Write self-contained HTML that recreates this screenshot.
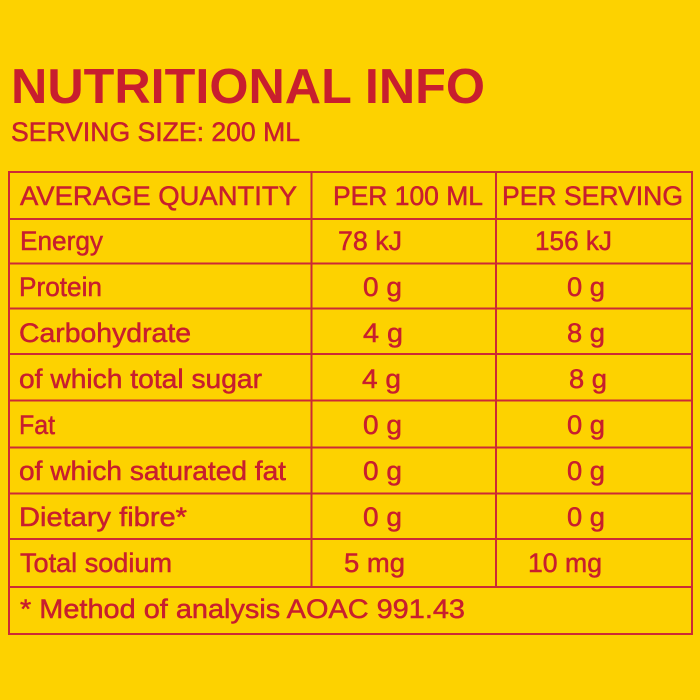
<!DOCTYPE html>
<html>
<head>
<meta charset="utf-8">
<style>
html,body{margin:0;padding:0;background:#fdd200;}
svg{display:block;}
text{font-family:"Liberation Sans",sans-serif;fill:#c81e2e;}
</style>
</head>
<body>
<svg width="700" height="700" viewBox="0 0 700 700" xmlns="http://www.w3.org/2000/svg">
<rect x="0" y="0" width="700" height="700" fill="#fdd200"/>
<text x="11" y="103" font-size="49" font-weight="bold" textLength="474" lengthAdjust="spacingAndGlyphs">NUTRITIONAL INFO</text>
<text x="11" y="141" font-size="27" stroke="#c81e2e" stroke-width="0.5" textLength="289" lengthAdjust="spacingAndGlyphs">SERVING SIZE: 200 ML</text>

<g stroke="#cc2a35" stroke-width="2" fill="none">
<rect x="9" y="172" width="683" height="462"/>
<line x1="311.5" y1="172" x2="311.5" y2="587"/>
<line x1="496" y1="172" x2="496" y2="587"/>
<line x1="9" y1="219" x2="692" y2="219"/>
<line x1="9" y1="263.5" x2="692" y2="263.5"/>
<line x1="9" y1="308.5" x2="692" y2="308.5"/>
<line x1="9" y1="354" x2="692" y2="354"/>
<line x1="9" y1="400.5" x2="692" y2="400.5"/>
<line x1="9" y1="447.5" x2="692" y2="447.5"/>
<line x1="9" y1="493.5" x2="692" y2="493.5"/>
<line x1="9" y1="539" x2="692" y2="539"/>
<line x1="9" y1="587" x2="692" y2="587"/>
</g>

<g font-size="27" stroke="#c81e2e" stroke-width="0.5">
<text x="20" y="205" textLength="277" lengthAdjust="spacingAndGlyphs">AVERAGE QUANTITY</text>
<text x="333" y="205" textLength="150" lengthAdjust="spacingAndGlyphs">PER 100 ML</text>
<text x="502" y="205" textLength="181" lengthAdjust="spacingAndGlyphs">PER SERVING</text>

<text x="20" y="250" textLength="83" lengthAdjust="spacingAndGlyphs">Energy</text>
<text x="19" y="296" textLength="83" lengthAdjust="spacingAndGlyphs">Protein</text>
<text x="19" y="342" textLength="172" lengthAdjust="spacingAndGlyphs">Carbohydrate</text>
<text x="19" y="388" textLength="243" lengthAdjust="spacingAndGlyphs">of which total sugar</text>
<text x="19" y="434" textLength="36" lengthAdjust="spacingAndGlyphs">Fat</text>
<text x="19" y="480" textLength="267" lengthAdjust="spacingAndGlyphs">of which saturated fat</text>
<text x="19" y="526" textLength="168" lengthAdjust="spacingAndGlyphs">Dietary fibre*</text>
<text x="20" y="572" textLength="152" lengthAdjust="spacingAndGlyphs">Total sodium</text>
<text x="20" y="618" textLength="445" lengthAdjust="spacingAndGlyphs">* Method of analysis AOAC 991.43</text>

<text x="338" y="250" textLength="64" lengthAdjust="spacingAndGlyphs">78 kJ</text>
<text x="363" y="296" textLength="39" lengthAdjust="spacingAndGlyphs">0 g</text>
<text x="363" y="342" textLength="40" lengthAdjust="spacingAndGlyphs">4 g</text>
<text x="362" y="388" textLength="39" lengthAdjust="spacingAndGlyphs">4 g</text>
<text x="363" y="434" textLength="39" lengthAdjust="spacingAndGlyphs">0 g</text>
<text x="363" y="480" textLength="39" lengthAdjust="spacingAndGlyphs">0 g</text>
<text x="363" y="526" textLength="39" lengthAdjust="spacingAndGlyphs">0 g</text>
<text x="344" y="572" textLength="61" lengthAdjust="spacingAndGlyphs">5 mg</text>

<text x="535" y="250" textLength="77" lengthAdjust="spacingAndGlyphs">156 kJ</text>
<text x="567" y="296" textLength="38" lengthAdjust="spacingAndGlyphs">0 g</text>
<text x="567" y="342" textLength="38" lengthAdjust="spacingAndGlyphs">8 g</text>
<text x="569" y="388" textLength="38" lengthAdjust="spacingAndGlyphs">8 g</text>
<text x="567" y="434" textLength="38" lengthAdjust="spacingAndGlyphs">0 g</text>
<text x="567" y="480" textLength="38" lengthAdjust="spacingAndGlyphs">0 g</text>
<text x="567" y="526" textLength="38" lengthAdjust="spacingAndGlyphs">0 g</text>
<text x="528" y="572" textLength="74" lengthAdjust="spacingAndGlyphs">10 mg</text>
</g>
</svg>
</body>
</html>
